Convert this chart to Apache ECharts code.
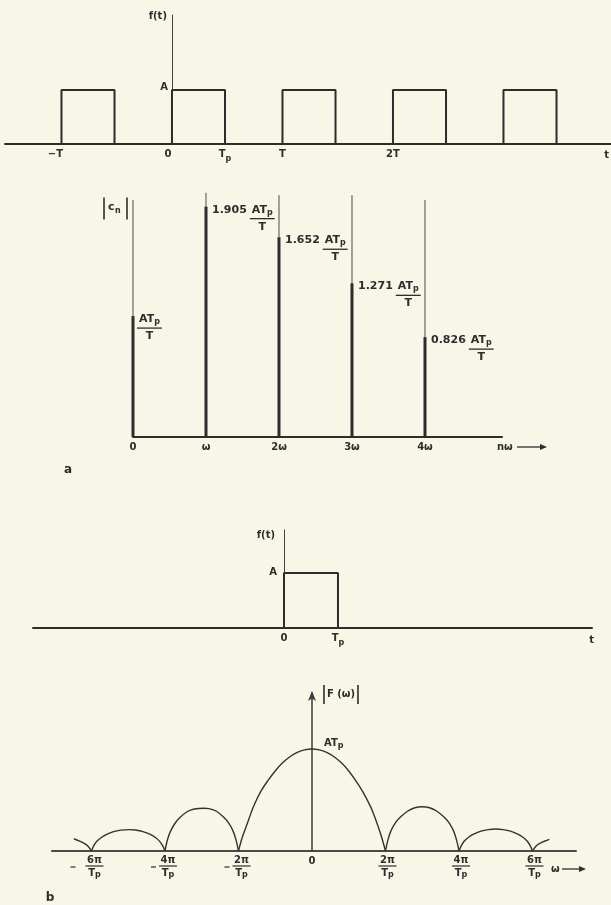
<!DOCTYPE html>
<html>
<head>
<meta charset="utf-8">
<script src="https://cdn.jsdelivr.net/npm/echarts@6/dist/echarts.min.js"></script>
<style>
  html, body { margin: 0; padding: 0; background: #f8f6e6; }
  #c { width: 611px; height: 905px; }
</style>
</head>
<body>
<div id="c"></div>
<script>
// ---- (a) periodic pulse train f(t); time in periods T ----
const pulseStarts = [-1, 0, 1, 2, 3];
const pulseWidth = 0.48;                 // Tp / T
const waveTicks = [-1, 0, 0.48, 1, 2];
const waveTickLabels = ['−T', '0', 'Tp', 'T', '2T'];

// ---- (a) line spectrum |c_n|, in units of A·Tp/T ----
const harmonics = [0, 1, 2, 3, 4];
const harmonicLabels = ['0', 'ω', '2ω', '3ω', '4ω'];
const cnValues = [1, 1.905, 1.652, 1.271, 0.826];
const cnLineHeights = [1.96, 2.02, 2.0, 2.0, 1.96];

// ---- (b) single pulse; time in units of Tp ----
const singleStarts = [0];
const singleWidth = 1;
const singleTicks = [0, 1];
const singleTickLabels = ['0', 'Tp'];

// ---- (b) continuous spectrum |F(ω)|, in units of A·Tp; ω in units of 2π/Tp ----
const lobeLeft3 = [[-3.24, 0.12], [-3.17, 0.1], [-3.1, 0.075], [-3.05, 0.05], [-3, 0]];
const lobeLeft2 = [[-3, 0], [-2.97, 0.05], [-2.93, 0.093], [-2.87, 0.13], [-2.8, 0.16], [-2.7, 0.19], [-2.6, 0.205],
                   [-2.48, 0.21], [-2.4, 0.206], [-2.3, 0.19], [-2.2, 0.162], [-2.13, 0.132], [-2.07, 0.092],
                   [-2.03, 0.05], [-2, 0]];
const lobeLeft1 = [[-2, 0], [-1.97, 0.1], [-1.93, 0.185], [-1.87, 0.265], [-1.8, 0.325], [-1.7, 0.385], [-1.6, 0.412],
                   [-1.47, 0.42], [-1.4, 0.416], [-1.3, 0.39], [-1.2, 0.33], [-1.13, 0.27], [-1.07, 0.19],
                   [-1.03, 0.1], [-1, 0]];
const lobeMain = [[-1, 0], [-0.95, 0.13], [-0.9, 0.23], [-0.85, 0.33], [-0.8, 0.43], [-0.7, 0.58], [-0.6, 0.69],
                  [-0.5, 0.785], [-0.4, 0.865], [-0.3, 0.925], [-0.2, 0.967], [-0.1, 0.992], [0, 1],
                  [0.1, 0.992], [0.2, 0.967], [0.3, 0.925], [0.4, 0.865], [0.5, 0.785], [0.6, 0.685], [0.7, 0.57],
                  [0.8, 0.43], [0.85, 0.34], [0.9, 0.24], [0.95, 0.13], [1, 0]];
const lobeRight1 = [[1, 0], [1.03, 0.1], [1.07, 0.19], [1.13, 0.27], [1.2, 0.33], [1.3, 0.39], [1.4, 0.424],
                    [1.5, 0.434], [1.6, 0.424], [1.7, 0.39], [1.8, 0.33], [1.87, 0.27], [1.93, 0.19],
                    [1.97, 0.1], [2, 0]];
const lobeRight2 = [[2, 0], [2.03, 0.05], [2.07, 0.095], [2.13, 0.135], [2.2, 0.165], [2.3, 0.195], [2.4, 0.21],
                    [2.5, 0.216], [2.6, 0.21], [2.7, 0.195], [2.8, 0.165], [2.87, 0.135], [2.93, 0.095],
                    [2.97, 0.05], [3, 0]];
const lobeRight3 = [[3, 0], [3.05, 0.05], [3.1, 0.075], [3.17, 0.098], [3.23, 0.114]];
const spectrumZeros = [-3, -2, -1, 1, 2, 3];
const spectrumZeroNums = ['6π', '4π', '2π', '2π', '4π', '6π'];

// ---- styling ----
const INK = '#2d2d2d';
const FAM = '"DejaVu Sans", "Liberation Sans", sans-serif';
const measureCtx = document.createElement('canvas').getContext('2d');
function textWidth(t, font) { measureCtx.font = font; return measureCtx.measureText(t).width; }

function pulseTrain(starts, width, xmin, xmax) {
  const pts = [[xmin, 0]];
  starts.forEach(s => { pts.push([s, 0], [s, 1], [s + width, 1], [s + width, 0]); });
  pts.push([xmax, 0]);
  return pts;
}

const X1 = [-1.511, 3.973], X2 = [0, 5.055], X3 = [-4.648, 5.704], X4 = [-3.537, 3.592];

const subRich = {
  t: { fontFamily: FAM, fontWeight: 'bold', fontSize: 10, color: INK, verticalAlign: 'top', lineHeight: 12 },
  p: { fontFamily: FAM, fontWeight: 'bold', fontSize: 8, color: INK, verticalAlign: 'bottom', lineHeight: 14 },
  n: { fontFamily: FAM, fontWeight: 'bold', fontSize: 10, color: INK, padding: [0, 12, 0, 0] },
  z: { fontFamily: FAM, fontWeight: 'bold', fontSize: 10, color: INK, padding: [0, 8, 0, 0] }
};
function tickText(label, shifted) {
  if (label === 'Tp') return '{t|T}{p|p}';
  if (shifted && label === '−T') return '{n|−T}';
  if (shifted && label === '0') return '{z|0}';
  return label;
}

// fraction "A·Tp over T" drawn at a left x and a middle y of its numerator
const NUM_FONT = 'bold 11px ' + FAM;
const SUB_FONT = 'bold 8px ' + FAM;
function fractionATpT(x, y) {
  const wAT = textWidth('AT', NUM_FONT);
  const w = wAT + textWidth('p', SUB_FONT);
  return [
    { type: 'text', x: x, y: y, style: { text: 'AT', font: NUM_FONT, fill: INK, align: 'left', verticalAlign: 'middle' } },
    { type: 'text', x: x + wAT, y: y + 3, style: { text: 'p', font: SUB_FONT, fill: INK, align: 'left', verticalAlign: 'middle' } },
    { type: 'line', shape: { x1: x - 2, y1: y + 9, x2: x + w + 2, y2: y + 9 }, style: { stroke: INK, lineWidth: 1.3 } },
    { type: 'text', x: x + w / 2, y: y + 17, style: { text: 'T', font: NUM_FONT, fill: INK, align: 'center', verticalAlign: 'middle' } }
  ];
}

const lobeSeries = [lobeLeft3, lobeLeft2, lobeLeft1, lobeMain, lobeRight1, lobeRight2, lobeRight3].map(d => ({
  type: 'line', xAxisIndex: 3, yAxisIndex: 3, showSymbol: false, silent: true,
  smooth: 0.35,
  lineStyle: { color: '#333', width: 1.4 }, data: d
}));

const option = {
  backgroundColor: '#f8f6e6',
  animation: false,
  grid: [
    { left: 5, width: 606, top: 15, height: 129 },
    { left: 133, width: 369, top: 171, height: 266 },
    { left: 33, width: 559, top: 530, height: 98 },
    { left: 52, width: 524, top: 693, height: 158 }
  ],
  xAxis: [
    { gridIndex: 0, type: 'value', min: X1[0], max: X1[1], splitLine: { show: false }, axisTick: { show: false },
      axisLine: { lineStyle: { color: INK, width: 2 } },
      axisLabel: { customValues: waveTicks, margin: 5, color: INK, fontFamily: FAM, fontWeight: 'bold', fontSize: 10, rich: subRich,
        formatter: v => tickText(waveTickLabels[waveTicks.indexOf(v)], true) } },
    { gridIndex: 1, type: 'value', min: X2[0], max: X2[1], splitLine: { show: false }, axisTick: { show: false },
      axisLine: { lineStyle: { color: INK, width: 2 } },
      axisLabel: { customValues: harmonics, margin: 5, color: INK, fontFamily: FAM, fontWeight: 'bold', fontSize: 10,
        formatter: v => harmonicLabels[harmonics.indexOf(v)] } },
    { gridIndex: 2, type: 'value', min: X3[0], max: X3[1], splitLine: { show: false }, axisTick: { show: false },
      axisLine: { lineStyle: { color: INK, width: 2 } },
      axisLabel: { customValues: singleTicks, margin: 5, color: INK, fontFamily: FAM, fontWeight: 'bold', fontSize: 10, rich: subRich,
        formatter: v => tickText(singleTickLabels[singleTicks.indexOf(v)], false) } },
    { gridIndex: 3, type: 'value', min: X4[0], max: X4[1], splitLine: { show: false }, axisTick: { show: false },
      axisLine: { lineStyle: { color: '#4a4a4a', width: 2 } },
      axisLabel: { customValues: [0], margin: 5, color: INK, fontFamily: FAM, fontWeight: 'bold', fontSize: 10 } }
  ],
  yAxis: [
    { gridIndex: 0, type: 'value', min: 0, max: 2.39, splitLine: { show: false }, axisTick: { show: false },
      axisLine: { show: true, onZero: true, lineStyle: { color: '#444', width: 1 } }, axisLabel: { show: false } },
    { gridIndex: 1, type: 'value', min: 0, max: 2.2, show: false },
    { gridIndex: 2, type: 'value', min: 0, max: 1.78, splitLine: { show: false }, axisTick: { show: false },
      axisLine: { show: true, onZero: true, lineStyle: { color: '#444', width: 1 } }, axisLabel: { show: false } },
    { gridIndex: 3, type: 'value', min: 0, max: 1.55, splitLine: { show: false }, axisTick: { show: false },
      axisLine: { show: true, onZero: true, symbol: ['none', 'arrow'], symbolSize: [6, 10], symbolOffset: [0, 2],
        lineStyle: { color: '#3a3a3a', width: 1.5 } },
      axisLabel: { show: false } }
  ],
  series: [
    { type: 'line', xAxisIndex: 0, yAxisIndex: 0, showSymbol: false, silent: true,
      lineStyle: { color: INK, width: 2 },
      data: pulseTrain(pulseStarts, pulseWidth, X1[0], X1[1]) },
    { type: 'custom', xAxisIndex: 1, yAxisIndex: 1, silent: true,
      data: harmonics.map((n, i) => [n, cnValues[i], cnLineHeights[i]]),
      renderItem: function (params, api) {
        const i = params.dataIndex;
        const base = api.coord([api.value(0), 0]);
        const top = api.coord([api.value(0), api.value(1)]);
        const tall = api.coord([api.value(0), api.value(2)]);
        const children = [
          { type: 'line', shape: { x1: base[0], y1: base[1], x2: tall[0], y2: tall[1] }, style: { stroke: '#4a4a4a', lineWidth: 1 } },
          { type: 'line', shape: { x1: base[0], y1: base[1], x2: top[0], y2: top[1] }, style: { stroke: INK, lineWidth: 3 } }
        ];
        let x = top[0] + 6;
        const y = top[1] + 3;
        if (i > 0) {
          const t = cnValues[i].toFixed(3);
          children.push({ type: 'text', x: x, y: y, style: { text: t, font: NUM_FONT, fill: INK, align: 'left', verticalAlign: 'middle' } });
          x += textWidth(t, NUM_FONT) + 5;
        }
        fractionATpT(x, y).forEach(c => children.push(c));
        return { type: 'group', children: children };
      } },
    { type: 'line', xAxisIndex: 2, yAxisIndex: 2, showSymbol: false, silent: true,
      lineStyle: { color: INK, width: 2 },
      data: pulseTrain(singleStarts, singleWidth, X3[0], X3[1]) }
  ].concat(lobeSeries, [{
    type: 'custom', xAxisIndex: 3, yAxisIndex: 3, silent: true,
    data: spectrumZeros.map((u, i) => [u, 0, i]),
    renderItem: function (params, api) {
      const u = api.value(0);
      const p = api.coord([u, 0]);
      const cx = p[0] + (u < 0 ? 3 : 2);
      const y0 = p[1];
      const f = 'bold 10px ' + FAM;
      const fs = 'bold 8px ' + FAM;
      const wT = textWidth('T', f);
      const wTp = wT + textWidth('p', fs);
      const children = [
        { type: 'text', x: cx, y: y0 + 9, style: { text: spectrumZeroNums[params.dataIndex], font: f, fill: INK, align: 'center', verticalAlign: 'middle' } },
        { type: 'line', shape: { x1: cx - 9, y1: y0 + 15, x2: cx + 9, y2: y0 + 15 }, style: { stroke: INK, lineWidth: 1.2 } },
        { type: 'text', x: cx - wTp / 2, y: y0 + 22, style: { text: 'T', font: f, fill: INK, align: 'left', verticalAlign: 'middle' } },
        { type: 'text', x: cx - wTp / 2 + wT, y: y0 + 24, style: { text: 'p', font: fs, fill: INK, align: 'left', verticalAlign: 'middle' } }
      ];
      if (u < 0) {
        const off = u === -3 ? 24 : 17;
        children.push({ type: 'line', shape: { x1: cx - off, y1: y0 + 16, x2: cx - off + 5, y2: y0 + 16 },
          style: { stroke: INK, lineWidth: 1.2 } });
      }
      return { type: 'group', children: children };
    }
  }])
};

const chart = echarts.init(document.getElementById('c'));
chart.setOption(option);

// Annotations anchored to data coordinates of each panel
function px(g, pt) { return chart.convertToPixel({ gridIndex: g }, pt); }
const F10 = 'bold 10px ' + FAM;
const F11 = 'bold 11px ' + FAM;
function label(pos, text, font, align, dx, dy) {
  return { type: 'text', x: pos[0] + dx, y: pos[1] + dy, silent: true,
    style: { text: text, font: font, fill: INK, align: align || 'left', verticalAlign: 'middle' } };
}
function arrowRight(x1, x2, y) {
  return [
    { type: 'line', silent: true, shape: { x1: x1, y1: y, x2: x2 - 4, y2: y }, style: { stroke: INK, lineWidth: 1.3 } },
    { type: 'polygon', silent: true, shape: { points: [[x2, y], [x2 - 7, y - 3], [x2 - 7, y + 3]] }, style: { fill: INK } }
  ];
}

const g = [];
// (a) pulse train
const a0 = px(0, [0, 2.39]);
g.push(label(a0, 'f(t)', F10, 'right', -5, 1));
g.push(label(px(0, [0, 1]), 'A', F10, 'right', -4, -3));
const aEnd = px(0, [X1[1], 0]);
g.push(label(aEnd, 't', F10, 'right', -2, 11));
// (a) line spectrum
const c0 = px(1, [0, 1.89]);
g.push({ type: 'line', silent: true, shape: { x1: c0[0] - 29, y1: c0[1] - 11, x2: c0[0] - 29, y2: c0[1] + 11 }, style: { stroke: INK, lineWidth: 1.6 } });
g.push({ type: 'line', silent: true, shape: { x1: c0[0] - 6, y1: c0[1] - 11, x2: c0[0] - 6, y2: c0[1] + 11 }, style: { stroke: INK, lineWidth: 1.6 } });
g.push(label(c0, 'c', F11, 'left', -25, -1));
g.push(label(c0, 'n', 'bold 8px ' + FAM, 'left', -18, 2));
const cEnd = px(1, [X2[1], 0]);
g.push(label(cEnd, 'nω', F10, 'left', -5, 10));
arrowRight(cEnd[0] + 15, cEnd[0] + 45, cEnd[1] + 10).forEach(e => g.push(e));
const orig1 = px(1, [0, 0]);
g.push(label(orig1, 'a', 'bold 12px ' + FAM, 'center', -65, 33));
// (b) single pulse
const s0 = px(2, [0, 1.78]);
g.push(label(s0, 'f(t)', F10, 'right', -9, 5));
g.push(label(px(2, [0, 1]), 'A', F10, 'right', -7, -1));
const sEnd = px(2, [X3[1], 0]);
g.push(label(sEnd, 't', F10, 'right', 2, 12));
// (b) continuous spectrum
const f0 = px(3, [0, 1.55]);
g.push({ type: 'line', silent: true, shape: { x1: f0[0] + 12, y1: f0[1] - 8, x2: f0[0] + 12, y2: f0[1] + 11 }, style: { stroke: INK, lineWidth: 1.6 } });
g.push({ type: 'line', silent: true, shape: { x1: f0[0] + 46, y1: f0[1] - 8, x2: f0[0] + 46, y2: f0[1] + 11 }, style: { stroke: INK, lineWidth: 1.6 } });
g.push(label(f0, 'F (ω)', F10, 'left', 15, 1));
const fPeak = px(3, [0, 1]);
g.push(label(fPeak, 'AT', F10, 'left', 12, -6));
g.push(label(fPeak, 'p', 'bold 8px ' + FAM, 'left', 12 + textWidth('AT', F10), -3));
const fEnd = px(3, [X4[1], 0]);
g.push(label(fEnd, 'ω', F10, 'left', -25, 18));
arrowRight(fEnd[0] - 14, fEnd[0] + 10, fEnd[1] + 18).forEach(e => g.push(e));
const orig3 = px(3, [0, 0]);
g.push(label(orig3, 'b', 'bold 12px ' + FAM, 'center', -262, 47));

chart.setOption({ graphic: g });
</script>
</body>
</html>
